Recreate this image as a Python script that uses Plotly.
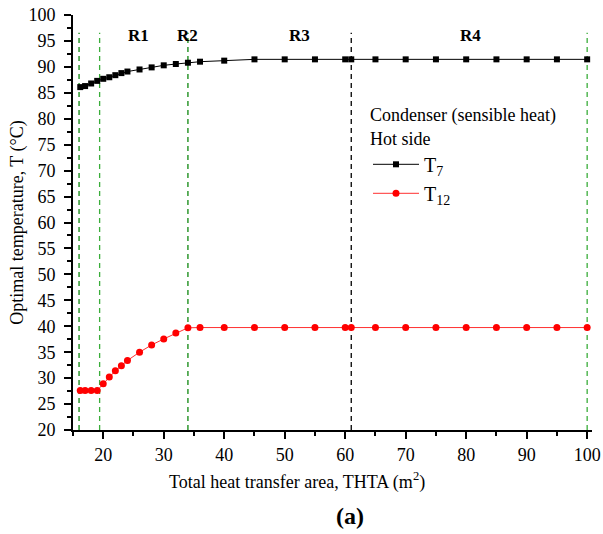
import plotly.graph_objects as go

# ---- data ----
thta = [16.2, 17, 18, 19, 20, 21, 22, 23, 24, 26, 28, 30, 32, 34, 36, 40, 45,
        50, 55, 60, 61, 65, 70, 75, 80, 85, 90, 95, 100]
t7 = [86.1, 86.3, 86.8, 87.3, 87.7, 88.0, 88.4, 88.8, 89.1, 89.5, 89.9, 90.3,
      90.55, 90.8, 91.0, 91.2, 91.45, 91.45, 91.45, 91.45, 91.45, 91.45, 91.45,
      91.45, 91.45, 91.45, 91.45, 91.45, 91.45]
t12 = [27.6, 27.6, 27.6, 27.6, 28.9, 30.2, 31.4, 32.4, 33.4, 35.0, 36.4, 37.55,
       38.7, 39.7, 39.75, 39.75, 39.75, 39.75, 39.75, 39.75, 39.75, 39.75, 39.75,
       39.75, 39.75, 39.75, 39.75, 39.75, 39.75]
boundaries = [16.0, 19.4, 34.0, 61.0, 100.0]
boundary_colors = ["#0f870f", "#3aad3a", "#0f870f", "#000000", "#3aad3a"]
region_labels = ["R1", "R2", "R3", "R4"]
region_label_x = [25.8, 33.9, 52.5, 80.7]

FONT = "Liberation Serif, Times New Roman, serif"

fig = go.Figure()
fig.add_trace(go.Scatter(
    x=thta, y=t7, mode="lines+markers", name="T<sub>7</sub>",
    line=dict(color="black", width=1),
    marker=dict(symbol="square", size=6, color="black")))
fig.add_trace(go.Scatter(
    x=thta, y=t12, mode="lines+markers", name="T<sub>12</sub>",
    line=dict(color="#ff3030", width=1),
    marker=dict(symbol="circle", size=7, color="#ff0000")))

for xb, c in zip(boundaries, boundary_colors):
    fig.add_shape(type="line", x0=xb, x1=xb, y0=20, y1=96.6, xref="x", yref="y",
                  line=dict(color=c, width=1.3, dash="5px,4px"), layer="below")

for lab, lx in zip(region_labels, region_label_x):
    fig.add_annotation(x=lx, y=96.1, xref="x", yref="y", text="<b>%s</b>" % lab,
                       showarrow=False, font=dict(family=FONT, size=17, color="black"))

# page geometry helpers (pixel -> paper coords)
W, H = 603, 534
L, R, T, B = 73, 11, 15, 104
pw, ph = W - L - R, H - T - B
def px(x):
    return (x - L) / pw
def py(y):
    return (H - B - y) / ph

fig.add_annotation(x=px(297), y=py(481), xref="paper", yref="paper",
                   xanchor="center", yanchor="middle",
                   text="Total heat transfer area, THTA (m<sup>2</sup>)", showarrow=False,
                   font=dict(family=FONT, size=18, color="black"))
fig.add_annotation(x=px(350), y=py(516), xref="paper", yref="paper",
                   xanchor="center", yanchor="middle",
                   text="<b>(a)</b>", showarrow=False,
                   font=dict(family=FONT, size=24, color="black"))

axis_common = dict(showline=True, linecolor="black", linewidth=2, ticks="outside",
                   tickwidth=2, tickcolor="black", ticklen=7, showgrid=False,
                   zeroline=False, automargin=False,
                   tickfont=dict(family=FONT, size=18, color="black"))

fig.update_layout(
    width=W, height=H,
    margin=dict(l=L, r=R, t=T, b=B),
    paper_bgcolor="white", plot_bgcolor="white",
    font=dict(family=FONT, size=18, color="black"),
    xaxis=dict(range=[15, 100.8], dtick=10, tick0=0, ticklabelstandoff=0,
               minor=dict(dtick=5, tick0=0, ticks="outside", ticklen=4, tickwidth=2,
                          tickcolor="black"),
               **axis_common),
    yaxis=dict(range=[20, 100], dtick=5, tick0=0, ticklabelstandoff=5,
               minor=dict(dtick=2.5, tick0=0, ticks="outside", ticklen=4, tickwidth=2,
                          tickcolor="black"),
               title=dict(text="Optimal temperature, T (\u00b0C)",
                          font=dict(family=FONT, size=18, color="black"), standoff=0),
               **axis_common),
    showlegend=True,
    legend=dict(x=px(368), y=py(98), xanchor="left", yanchor="top",
                bgcolor="rgba(0,0,0,0)", borderwidth=0,
                title=dict(text="Condenser (sensible heat)<br>Hot side",
                           font=dict(family=FONT, size=18, color="black")),
                font=dict(family=FONT, size=20, color="black"),
                itemwidth=46, tracegroupgap=4),
)

fig.write_html("out.html", config={"displayModeBar": False},
               post_script="document.body.style.margin='0';document.body.style.overflow='hidden';")
